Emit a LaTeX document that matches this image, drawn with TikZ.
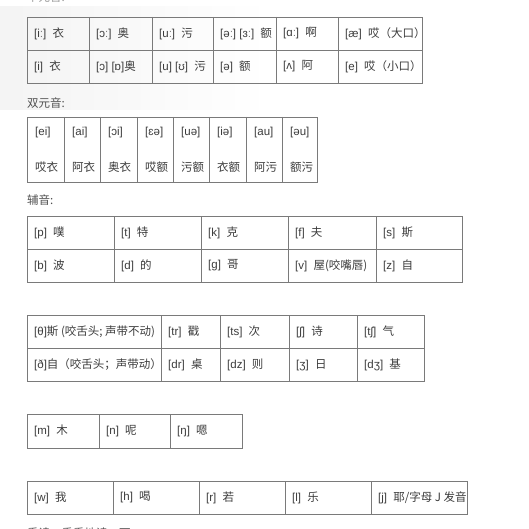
\documentclass[tikz,border=0pt]{standalone}
\usepackage{fontspec}
\setmainfont{Liberation Sans}
\newfontfamily\cjk{Noto Sans CJK SC}
\newcommand\zh[1]{\hspace{3pt}{\cjk #1}}
\definecolor{gridc}{HTML}{7A7A7A}
\definecolor{txtc}{HTML}{3C3C3C}
\definecolor{lblc}{HTML}{505050}
\tikzset{
  gridline/.style={draw=gridc, line width=0.9pt},
  cell/.style={anchor=west, inner sep=0pt, text=txtc, font=\fontsize{11.5}{13}\selectfont},
  lbl/.style={anchor=west, inner sep=0pt, text=lblc, font=\fontsize{11.5}{13}\selectfont\cjk},
}
\begin{document}
\begin{tikzpicture}[x=1pt,y=-1pt]
\useasboundingbox (0,0) rectangle (529,529);
\clip (0,0) rectangle (529,529);
\fill[white] (0,0) rectangle (529,529);
\shade[left color=gray!9, right color=white] (0,6) rectangle (270,110);
\fill[white] (0,0) rectangle (529,6);

% top label (cut)
\node[lbl, text=lblc!60] (l0) at (27,-3) {单元音:};

% Table 1
\draw[gridline] (27,17) rectangle (422,83);
\draw[gridline] (27,50) -- (422,50);
\foreach \x in {89,152,213,276,338} \draw[gridline] (\x,17) -- (\x,83);
\node[cell] (a1) at (34,33.5) {[iː] \zh{衣}};
\node[cell] (a2) at (96,33.5) {[ɔː] \zh{奥}};
\node[cell] (a3) at (159,33.5) {[uː] \zh{污}};
\node[cell] (a4) at (220,33.5) {[əː] [ɜː] \zh{额}};
\node[cell] (a5) at (283,33.5) {[ɑː] \zh{啊}};
\node[cell] (a6) at (345,33.5) {[æ] \zh{哎（大口）}};
\node[cell] (b1) at (34,66.5) {[i] \zh{衣}};
\node[cell] (b2) at (96,66.5) {[ɔ] [ɒ]{\cjk 奥}};
\node[cell] (b3) at (159,66.5) {[u] [ʊ] \zh{污}};
\node[cell] (b4) at (220,66.5) {[ə] \zh{额}};
\node[cell] (b5) at (283,66.5) {[ʌ] \zh{阿}};
\node[cell] (b6) at (345,66.5) {[e] \zh{哎（小口）}};

% label
\node[lbl] (l1) at (27,103) {双元音:};

% Table 2
\draw[gridline] (27,117) rectangle (317,182);
\foreach \x in {64,100,137,173,209,246,282} \draw[gridline] (\x,117) -- (\x,182);
\foreach \x/\p/\c [count=\i] in {27/ei/哎衣,64/ai/阿衣,100/ɔi/奥衣,137/ɛə/哎额,173/uə/污额,209/iə/衣额,246/au/阿污,282/əu/额污}{
  \node[cell] (d\i) at (\x+8,133) {[\p]};
  \node[cell] (e\i) at (\x+8,167) {\cjk \c};
}

% label
\node[lbl] (l2) at (27,200) {辅音:};

% Table 3
\draw[gridline] (27,216) rectangle (462,282);
\draw[gridline] (27,249) -- (462,249);
\foreach \x in {114,201,288,376} \draw[gridline] (\x,216) -- (\x,282);
\node[cell] (f1) at (34,232.5) {[p] \zh{噗}};
\node[cell] (f2) at (121,232.5) {[t] \zh{特}};
\node[cell] (f3) at (208,232.5) {[k] \zh{克}};
\node[cell] (f4) at (295,232.5) {[f] \zh{夫}};
\node[cell] (f5) at (383,232.5) {[s] \zh{斯}};
\node[cell] (g1) at (34,265.5) {[b] \zh{波}};
\node[cell] (g2) at (121,265.5) {[d] \zh{的}};
\node[cell] (g3) at (208,265.5) {[g] \zh{哥}};
\node[cell] (g4) at (295,265.5) {[v] \zh{屋(咬嘴唇)}};
\node[cell] (g5) at (383,265.5) {[z] \zh{自}};

% Table 4
\draw[gridline] (27,315) rectangle (424,381);
\draw[gridline] (27,348.5) -- (424,348.5);
\foreach \x in {161,220,289,357} \draw[gridline] (\x,315) -- (\x,381);
\node[cell] (h1) at (34,332) {[θ]{\cjk 斯 (咬舌头; 声带不动)}};
\node[cell] (h2) at (168,332) {[tr] \zh{戳}};
\node[cell] (h3) at (227,332) {[ts] \zh{次}};
\node[cell] (h4) at (296,332) {[ʃ] \zh{诗}};
\node[cell] (h5) at (364,332) {[tʃ] \zh{气}};
\node[cell] (i1) at (34,365) {[ð]{\cjk 自（咬舌头；声带动）}};
\node[cell] (i2) at (168,365) {[dr] \zh{桌}};
\node[cell] (i3) at (227,365) {[dz] \zh{则}};
\node[cell] (i4) at (296,365) {[ʒ] \zh{日}};
\node[cell] (i5) at (364,365) {[dʒ] \zh{基}};

% Table 5
\draw[gridline] (27,414) rectangle (242,448);
\foreach \x in {99,170} \draw[gridline] (\x,414) -- (\x,448);
\node[cell] (j1) at (34,431) {[m] \zh{木}};
\node[cell] (j2) at (106,431) {[n] \zh{呢}};
\node[cell] (j3) at (177,431) {[ŋ] \zh{嗯}};

% Table 6
\draw[gridline] (27,481) rectangle (467,514);
\foreach \x in {113,199,285,371} \draw[gridline] (\x,481) -- (\x,514);
\node[cell] (k1) at (34,497.5) {[w] \zh{我}};
\node[cell] (k2) at (120,497.5) {[h] \zh{喝}};
\node[cell] (k3) at (206,497.5) {[r] \zh{若}};
\node[cell] (k4) at (292,497.5) {[l] \zh{乐}};
\node[cell] (k5) at (378,497.5) {[j] \zh{耶/字母 J 发音}};

% bottom label (cut)
\node[lbl] (l3) at (27,533) {重读：重重地读一下};
\end{tikzpicture}
\end{document}
